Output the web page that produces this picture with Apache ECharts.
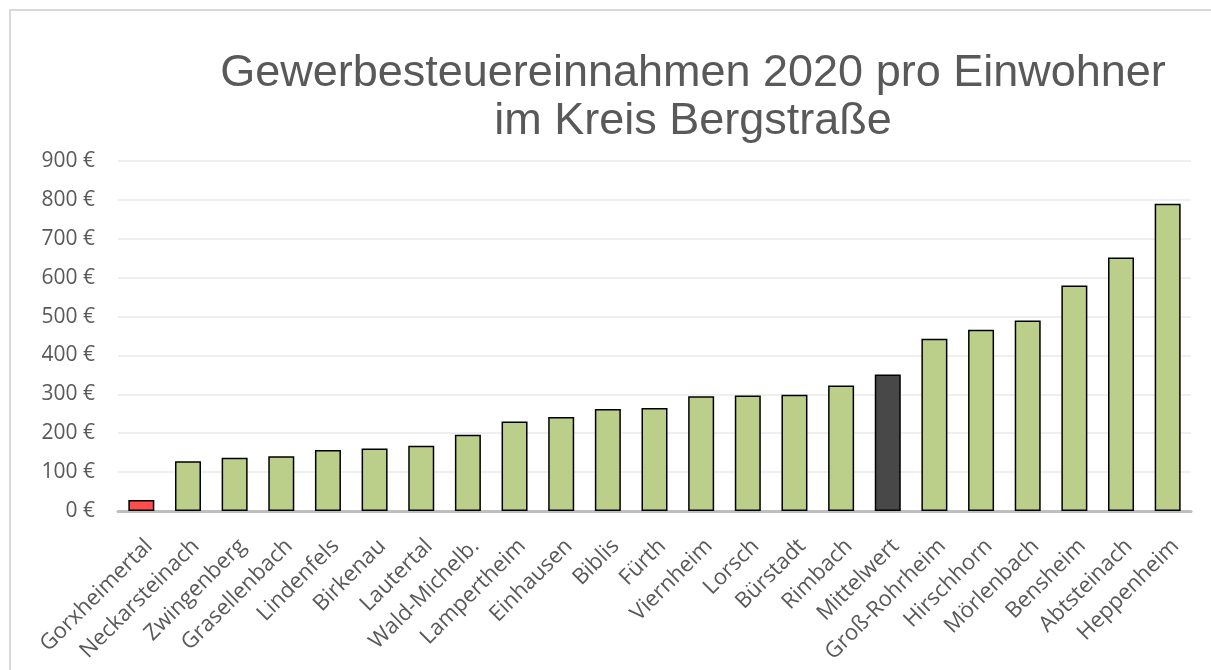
<!DOCTYPE html>
<html>
<head>
<meta charset="utf-8">
<script src="https://cdn.jsdelivr.net/npm/echarts@6/dist/echarts.min.js"></script>
<style>
  html, body { margin: 0; padding: 0; background: #fff; }
  #main { width: 1211px; height: 670px; }
</style>
</head>
<body>
<div id="main"></div>
<script>
// Gemeinden, sortiert nach Gewerbesteuer pro Einwohner
var gemeinden = ['Gorxheimertal', 'Neckarsteinach', 'Zwingenberg', 'Grasellenbach', 'Lindenfels',
  'Birkenau', 'Lautertal', 'Wald-Michelb.', 'Lampertheim', 'Einhausen', 'Biblis', 'Fürth',
  'Viernheim', 'Lorsch', 'Bürstadt', 'Rimbach', 'Mittelwert', 'Groß-Rohrheim', 'Hirschhorn',
  'Mörlenbach', 'Bensheim', 'Abtsteinach', 'Heppenheim'];
var steuerProEinwohner = [28, 128, 137, 141, 157, 161, 168, 196, 230, 242, 262, 265,
  295, 297, 299, 323, 351, 443, 466, 490, 580, 652, 790];
var yTicks = [0, 900, 100];

var chart = echarts.init(document.getElementById('main'));

var textGrey = '#595959';

chart.setOption({
  animation: false,
  title: {
    text: 'Gewerbesteuereinnahmen 2020 pro Einwohner\nim Kreis Bergstraße',
    left: 688,
    top: 45,
    textAlign: 'center',
    textStyle: {
      fontFamily: 'Liberation Sans, Arial, sans-serif',
      fontSize: 45,
      fontWeight: 'normal',
      color: textGrey,
      lineHeight: 48
    }
  },
  graphic: [{
    type: 'polyline',
    shape: { points: [[10, 670], [10, 10], [1211, 10]] },
    style: { stroke: '#d9d9d9', lineWidth: 2, fill: null }
  }],
  grid: {
    left: 118,
    right: 20,
    top: 161,
    bottom: 159
  },
  xAxis: {
    type: 'category',
    data: gemeinden,
    axisLine: { lineStyle: { color: '#bfbfbf', width: 3 } },
    axisTick: { show: false },
    axisLabel: {
      rotate: 45,
      interval: 0,
      margin: 24,
      verticalAlign: 'top',
      color: textGrey,
      fontFamily: 'Open Sans, sans-serif',
      fontSize: 22
    }
  },
  yAxis: {
    type: 'value',
    min: yTicks[0],
    max: yTicks[1],
    interval: yTicks[2],
    axisLine: { show: false },
    axisTick: { show: false },
    splitLine: { lineStyle: { color: '#efefef', width: 2 } },
    axisLabel: {
      formatter: '{value} €',
      margin: 23,
      color: textGrey,
      fontFamily: 'Open Sans, sans-serif',
      fontSize: 21
    }
  },
  series: [{
    type: 'bar',
    data: steuerProEinwohner,
    barWidth: 26,
    itemStyle: {
      borderColor: '#000',
      borderWidth: 1.5,
      color: function (p) {
        if (p.name === 'Mittelwert') return '#484848';
        if (p.dataIndex === 0) return '#ff4d4d';
        return '#bbcf8a';
      }
    }
  }]
});
</script>
</body>
</html>
